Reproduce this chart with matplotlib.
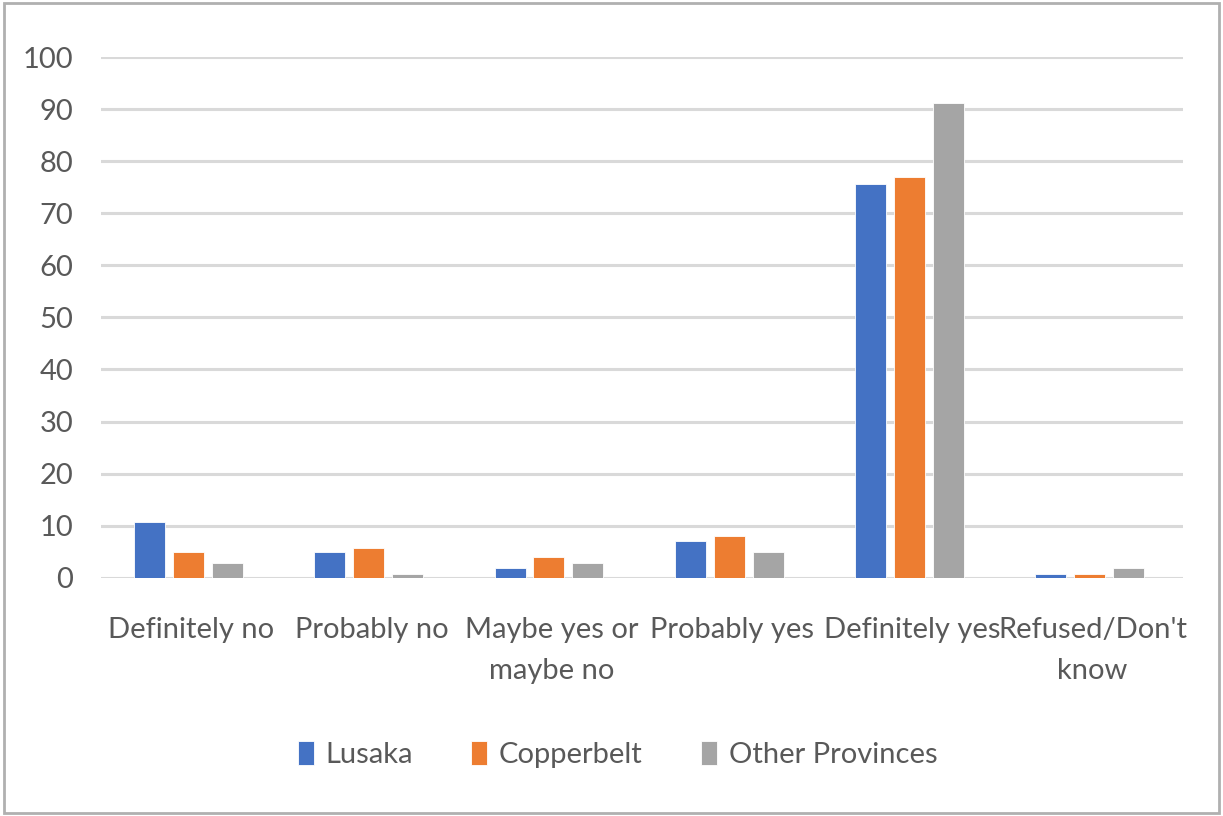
import numpy as np
import matplotlib.pyplot as plt
from matplotlib.patches import Rectangle

plt.rcParams['font.family'] = ['Lato', 'DejaVu Sans']

categories = ['Definitely no', 'Probably no', 'Maybe yes or\nmaybe no',
              'Probably yes', 'Definitely yes', "Refused/Don't\nknow"]
lusaka = [10.8, 5.0, 1.9, 7.0, 75.7, 0.8]
copperbelt = [5.0, 5.8, 3.9, 8.1, 76.9, 0.8]
other = [2.8, 0.8, 2.8, 5.0, 91.2, 1.9]

series = [('Lusaka', lusaka, '#4472c4'),
          ('Copperbelt', copperbelt, '#ed7d31'),
          ('Other Provinces', other, '#a5a5a5')]

fig = plt.figure(figsize=(12.23, 8.16), dpi=100)
ax = fig.add_axes([0.0826, 0.292, 0.8844, 0.638])

x = np.arange(len(categories))
width = 0.172
step = 0.216
for i, (name, vals, col) in enumerate(series):
    ax.bar(x - 0.015 + (i - 1) * step, vals, width, color=col, label=name, zorder=3,
           edgecolor='white', linewidth=0.6)

ax.set_xlim(-0.5, len(categories) - 0.5)
ax.set_ylim(0, 100)
ax.set_yticks(range(0, 101, 10))
ax.yaxis.grid(True, color='#d9d9d9', linewidth=2.2, zorder=0)
ax.set_axisbelow(True)
for s in ax.spines.values():
    s.set_visible(False)
ax.tick_params(axis='both', length=0, labelsize=21, labelcolor='#595959')
ax.tick_params(axis='y', pad=20)
ax.tick_params(axis='x', pad=28)
ax.set_xticks(x)
ax.set_xticklabels(categories, linespacing=1.75)

ax.legend(loc='center', bbox_to_anchor=(0.505, 0.075), bbox_transform=fig.transFigure,
          ncol=3, frameon=False, fontsize=21, labelcolor='#595959',
          handlelength=0.55, handleheight=0.85, handletextpad=0.4, columnspacing=2.0)

# outer chart border
fig.patches.append(Rectangle((0.003, 0.004), 0.994, 0.992, transform=fig.transFigure,
                             fill=False, edgecolor='#b0b0b0', linewidth=2))

fig.savefig('out.png', dpi=100)
